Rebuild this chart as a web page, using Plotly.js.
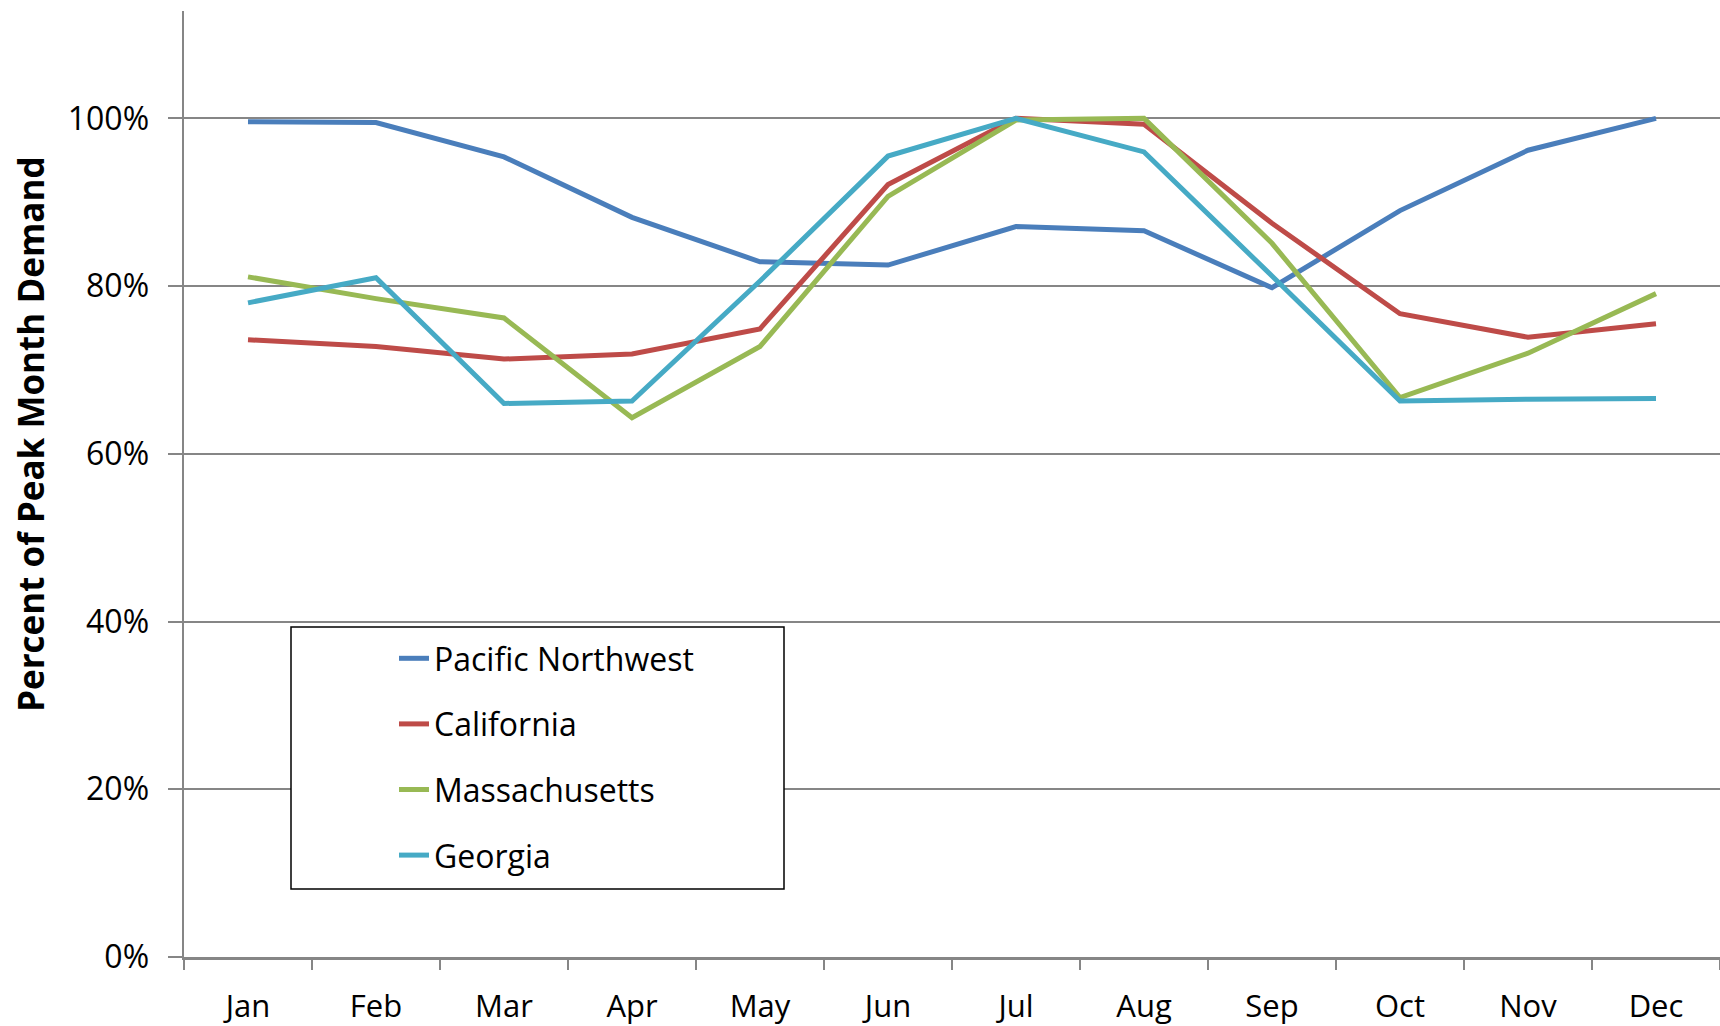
<!DOCTYPE html>
<html>
<head>
<meta charset="utf-8">
<script src="https://cdn.plot.ly/plotly-3.0.1.min.js"></script>
<style>
html,body{margin:0;padding:0;background:#fff;}
#chart{width:1720px;height:1026px;}
</style>
</head>
<body>
<div id="chart"></div>
<script>
const months = ["Jan","Feb","Mar","Apr","May","Jun","Jul","Aug","Sep","Oct","Nov","Dec"];
const pacificNorthwest = [0.996,0.995,0.954,0.882,0.829,0.825,0.871,0.866,0.798,0.890,0.962,1.000];
const california       = [0.736,0.728,0.713,0.719,0.749,0.921,1.000,0.993,0.875,0.767,0.739,0.755];
const massachusetts    = [0.811,0.785,0.762,0.643,0.728,0.907,0.998,1.000,0.851,0.667,0.720,0.791];
const georgia          = [0.780,0.810,0.660,0.663,0.806,0.955,1.000,0.960,0.812,0.663,0.665,0.666];
const seriesNames = ["Pacific Northwest","California","Massachusetts","Georgia"];
const seriesColors = ["#4A7EBB","#BE4B48","#98B954","#46AAC5"];
const yTickVals = [0,0.2,0.4,0.6,0.8,1.0];
const yTitle = "Percent of Peak Month Demand";

const seriesData = [pacificNorthwest, california, massachusetts, georgia];
const font = "'Open Sans', 'Noto Sans', sans-serif";
const traces = seriesData.map((ys, i) => ({
  type: "scatter",
  mode: "lines",
  x: months,
  y: ys,
  name: seriesNames[i],
  legendgroup: "g" + i,
  line: {color: seriesColors[i], width: 5},
  hoverinfo: "skip"
}));

const plotL = 184, plotR = 1720, plotT = 11, plotB = 957;
const pw = plotR - plotL, ph = plotB - plotT;
const px = v => (v - plotL) / pw;
const py = v => (plotB - v) / ph;

const layout = {
  width: 1720, height: 1026,
  margin: {l: plotL, r: 1720 - plotR, t: plotT, b: 1026 - plotB},
  paper_bgcolor: "#fff", plot_bgcolor: "#fff",
  font: {family: font, size: 31, color: "#000"},
  showlegend: true,
  hovermode: false,
  xaxis: {
    type: "category",
    range: [-0.5, months.length - 0.5],
    showline: true, linecolor: "#868686", linewidth: 2.5,
    ticks: "outside", tickson: "boundaries", ticklen: 10, tickwidth: 2, tickcolor: "#868686",
    showgrid: false, zeroline: false,
    tickfont: {family: font, size: 31, color: "#000"},
    ticklabelstandoff: 20,
    fixedrange: true
  },
  yaxis: {
    range: [0, 1.128],
    tickvals: yTickVals, tickformat: ".0%",
    showline: true, linecolor: "#868686", linewidth: 2.5,
    ticks: "outside", ticklen: 14, tickwidth: 2, tickcolor: "#868686",
    showgrid: true, gridcolor: "#868686", gridwidth: 2,
    zeroline: false,
    tickfont: {family: font, size: 32, color: "#000"},
    ticklabelstandoff: 12,
    fixedrange: true
  },
  legend: {
    x: px(394), y: py(631), xanchor: "left", yanchor: "top",
    bgcolor: "rgba(0,0,0,0)", borderwidth: 0,
    tracegroupgap: 21,
    font: {family: font, size: 32, color: "#000"}
  },
  shapes: [{
    type: "rect", xref: "paper", yref: "paper",
    x0: px(291), x1: px(784), y0: py(889), y1: py(627),
    line: {color: "#000", width: 1.5}, fillcolor: "#fff", layer: "above"
  }],
  annotations: [{
    text: "<b>" + yTitle + "</b>",
    xref: "paper", yref: "paper",
    x: px(31), y: py(434), xanchor: "center", yanchor: "middle",
    textangle: -90, showarrow: false,
    font: {family: font, size: 35, color: "#000"}
  }]
};

Plotly.newPlot("chart", traces, layout, {staticPlot: true, displayModeBar: false});
</script>
</body>
</html>
